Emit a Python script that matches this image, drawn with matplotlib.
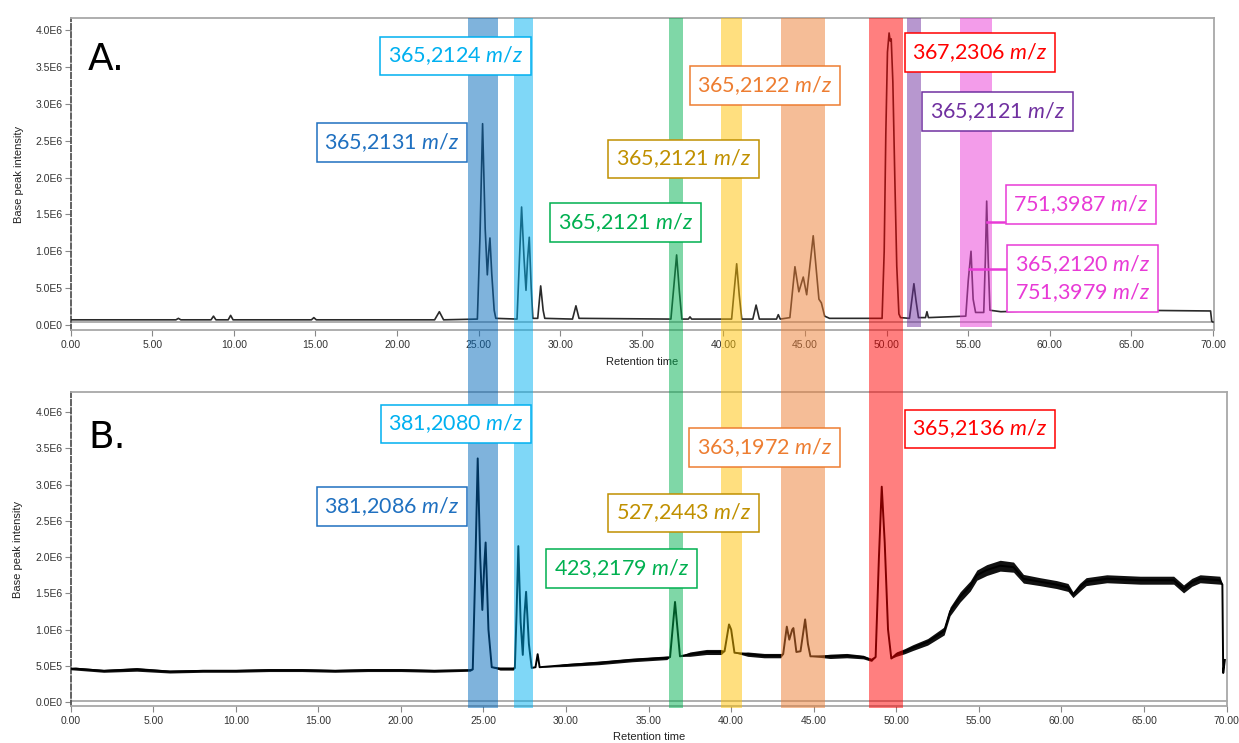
import numpy as np
import matplotlib
matplotlib.use("Agg")
import matplotlib.pyplot as plt
from matplotlib.patches import Rectangle
from matplotlib.ticker import FixedLocator, FuncFormatter
import matplotlib.transforms as mtransforms

plt.rcParams['mathtext.fontset'] = 'custom'
plt.rcParams['mathtext.it'] = 'Lato:italic'
plt.rcParams['mathtext.rm'] = 'Lato'

# ---- data (retention time in min, intensity in 1e6) ----
# panel A trace
a_time = [0.0, 3.0, 6.45, 6.6, 6.75, 8.6, 8.75, 8.9, 9.65, 9.8, 9.95, 14.75, 14.9, 15.05,
          22.3, 22.59, 22.85, 24.92, 25.08, 25.24, 25.40, 25.53, 25.62, 25.69, 25.80, 25.95, 26.05,
          27.35, 27.50, 27.63, 27.78, 27.90, 28.00, 28.10, 28.22, 28.32, 28.62, 28.80, 28.95, 29.05,
          30.75, 30.96, 31.15, 36.78, 36.95, 37.13, 37.30, 37.45, 37.85, 37.95, 38.05,
          40.50, 40.65, 40.81, 40.97, 41.12, 41.80, 42.00, 42.20, 43.25, 43.36, 43.48,
          44.07, 44.38, 44.62, 44.89, 45.10, 45.50, 45.85, 46.00, 46.20, 46.50,
          49.72, 49.85, 49.95, 50.05, 50.15, 50.22, 50.28, 50.38, 50.50, 50.62, 50.75, 50.85,
          51.40, 51.55, 51.67, 51.80, 51.95, 52.38, 52.47, 52.56,
          54.85, 55.00, 55.17, 55.30, 55.45, 55.95, 56.05, 56.13, 56.22, 56.33,
          57.0, 60.0, 65.0, 69.85, 69.92, 70.0]
a_int = [0.07, 0.07, 0.07, 0.09, 0.07, 0.07, 0.12, 0.07, 0.07, 0.13, 0.07, 0.07, 0.10, 0.07,
         0.07, 0.18, 0.07, 0.08, 1.20, 2.73, 1.30, 0.68, 1.00, 1.18, 0.70, 0.20, 0.09,
         0.08, 0.90, 1.60, 0.90, 0.47, 0.90, 1.19, 0.50, 0.09, 0.09, 0.53, 0.20, 0.09,
         0.08, 0.26, 0.09, 0.08, 0.50, 0.95, 0.45, 0.08, 0.08, 0.11, 0.08,
         0.08, 0.45, 0.83, 0.40, 0.08, 0.08, 0.27, 0.08, 0.08, 0.14, 0.08,
         0.10, 0.79, 0.45, 0.65, 0.41, 1.21, 0.35, 0.30, 0.12, 0.09,
         0.09, 1.00, 2.60, 3.70, 3.96, 3.85, 3.88, 3.30, 2.00, 0.80, 0.15, 0.10,
         0.09, 0.35, 0.56, 0.33, 0.10, 0.10, 0.18, 0.10,
         0.12, 0.60, 1.00, 0.35, 0.17, 0.17, 0.90, 1.68, 0.90, 0.20,
         0.18, 0.20, 0.20, 0.19, 0.05, 0.04]

# panel B trace (centre line) and half-width of the baseline noise
b_time = [0.0, 0.3, 2.0, 4.0, 6.0, 8.0, 10.0, 12.0, 14.0, 16.0, 18.0, 20.0, 22.0, 24.2,
          24.35, 24.50, 24.65, 24.80, 24.93, 25.05, 25.13, 25.30, 25.50, 26.0, 26.8,
          26.90, 27.00, 27.11, 27.25, 27.38, 27.48, 27.58, 27.75, 27.92, 28.15, 28.28, 28.40,
          30.0, 32.0, 34.0, 36.1, 36.3, 36.6, 36.9, 37.5, 38.5, 39.4, 39.6, 39.87, 40.0, 40.2,
          41.0, 42.0, 43.0, 43.15, 43.37, 43.52, 43.70, 43.77, 43.95, 44.20, 44.48, 44.65, 44.80,
          46.0, 47.0, 48.0, 48.5, 48.75, 48.95, 49.12, 49.30, 49.50, 49.70,
          50.0, 50.5, 51.0, 51.9, 52.9, 53.26, 53.87, 54.48, 54.88, 55.48, 56.29, 57.1, 57.7,
          58.7, 59.7, 60.4, 60.7, 61.1, 61.5, 62.75, 64.77, 66.8, 67.4, 67.9, 68.4, 69.6,
          69.75, 69.8, 69.9]
b_int = [0.46, 0.46, 0.43, 0.45, 0.42, 0.43, 0.43, 0.44, 0.44, 0.43, 0.44, 0.44, 0.43, 0.44,
         0.45, 1.80, 3.36, 2.00, 1.27, 1.90, 2.20, 1.00, 0.48, 0.46, 0.46,
         0.47, 1.20, 2.15, 1.10, 0.65, 1.20, 1.52, 0.80, 0.47, 0.48, 0.66, 0.48,
         0.51, 0.54, 0.58, 0.61, 0.62, 1.38, 0.63, 0.66, 0.69, 0.69, 0.70, 1.07, 1.00, 0.68,
         0.66, 0.64, 0.64, 0.66, 1.04, 0.86, 1.00, 1.02, 0.69, 0.70, 1.14, 0.80, 0.63,
         0.63, 0.64, 0.62, 0.58, 0.62, 2.00, 2.97, 2.20, 1.00, 0.60,
         0.66, 0.70, 0.75, 0.83, 0.98, 1.25, 1.45, 1.60, 1.75, 1.82, 1.88, 1.86, 1.70,
         1.66, 1.62, 1.58, 1.48, 1.58, 1.66, 1.70, 1.68, 1.68, 1.56, 1.65, 1.70, 1.68,
         1.62, 0.40, 0.58]
b_noise = [0.015, 0.02, 0.02, 0.025, 0.02, 0.02, 0.02, 0.02, 0.02, 0.02, 0.02, 0.02, 0.02, 0.015,
           0.0, 0.0, 0.0, 0.0, 0.0, 0.0, 0.0, 0.0, 0.0, 0.02, 0.02,
           0.0, 0.0, 0.0, 0.0, 0.0, 0.0, 0.0, 0.0, 0.0, 0.0, 0.0, 0.0,
           0.02, 0.025, 0.025, 0.025, 0.0, 0.0, 0.0, 0.03, 0.035, 0.035, 0.0, 0.0, 0.0, 0.0,
           0.03, 0.03, 0.03, 0.0, 0.0, 0.0, 0.0, 0.0, 0.0, 0.0, 0.0, 0.0, 0.0,
           0.03, 0.03, 0.025, 0.02, 0.0, 0.0, 0.0, 0.0, 0.0, 0.0,
           0.03, 0.035, 0.04, 0.045, 0.055, 0.06, 0.07, 0.07, 0.07, 0.075, 0.075, 0.07, 0.06,
           0.055, 0.055, 0.055, 0.04, 0.055, 0.055, 0.055, 0.055, 0.055, 0.055, 0.055, 0.055, 0.055,
           0.0, 0.0, 0.0]

# highlighted retention windows (min, on the panel A time axis)
band_start = [24.33, 27.16, 36.66, 39.85, 43.52, 48.92, 51.22, 54.49]
band_end = [26.16, 28.31, 37.50, 41.13, 46.22, 51.00, 52.10, 56.45]
band_color = ['#0068bb', '#00b0f0', '#00b050', '#ffc000', '#ed7d31', '#ff0000', '#7030a0', '#e83ad6']
band_both = [True, True, True, True, True, True, False, False]

# m/z annotations
mz = ' $m/z$'
a_labels = ['365,2124' + mz, '365,2131' + mz, '365,2121' + mz, '365,2121' + mz, '365,2122' + mz,
            '367,2306' + mz, '365,2121' + mz, '751,3987' + mz, '365,2120' + mz + '\n751,3979' + mz]
a_colors = ['#00b0f0', '#1f70c0', '#00b050', '#c09000', '#ed7d31', '#ff0000', '#7030a0', '#e83ad6', '#e83ad6']
b_labels = ['381,2080' + mz, '381,2086' + mz, '423,2179' + mz, '527,2443' + mz, '363,1972' + mz,
            '365,2136' + mz]
b_colors = ['#00b0f0', '#1f70c0', '#00b050', '#c09000', '#ed7d31', '#ff0000']

y_ticks = [0.0, 0.5, 1.0, 1.5, 2.0, 2.5, 3.0, 3.5, 4.0]
x_ticks = list(range(0, 75, 5))

# ---- layout (pixel positions in the 1239x743 canvas) ----
W, H = 1239, 743
fig = plt.figure(figsize=(W / 100, H / 100), dpi=100)


def fx(px):
    return px / W


def fy(py):
    return 1 - py / H


ax_a = fig.add_axes([fx(70.7), fy(330), fx(1214 - 70.7), (330 - 18) / H])
ax_b = fig.add_axes([fx(70.7), fy(706), fx(1227 - 70.7), (706 - 392) / H])


def sci(v, pos):
    if v == 0:
        return '0.0E0'
    e = int(np.floor(np.log10(v) + 1e-9))
    return '%.1fE%d' % (v / 10 ** e, e)


def style_axes(ax, ylim, xmax, inner):
    ax.set_xlim(0, xmax)
    ax.set_ylim(*ylim)
    ax.yaxis.set_major_locator(FixedLocator([v * 1e6 for v in y_ticks]))
    ax.yaxis.set_major_formatter(FuncFormatter(sci))
    ax.xaxis.set_major_locator(FixedLocator(x_ticks))
    ax.xaxis.set_major_formatter(FuncFormatter(lambda v, p: '%.2f' % v))
    for s in ax.spines.values():
        s.set_color('#a8a8a8')
        s.set_linewidth(1.3)
    ax.spines['left'].set_color('#555555')
    ax.spines['left'].set_linestyle((0, (3, 1.5)))
    ax.plot([0, 1], [inner, inner], transform=ax.transAxes, color='#a8a8a8', lw=1.3,
            clip_on=False)
    ax.tick_params(direction='out', length=4, width=0.8, color='#888888',
                   labelsize=7.5, labelcolor='#333333')
    ax.tick_params(axis='x', pad=3)
    ax.tick_params(axis='y', pad=2)
    for lab in ax.get_xticklabels() + ax.get_yticklabels():
        lab.set_family('Liberation Sans')
    ax.set_ylabel('Base peak intensity', fontsize=8, family='Liberation Sans', color='#222222')
    ax.set_xlabel('Retention time', fontsize=8, family='Liberation Sans', color='#222222')


style_axes(ax_a, (-0.068e6, 4.163e6), 70.06, (330 - 322) / 312)
style_axes(ax_b, (-0.055e6, 4.276e6), 70.03, (706 - 701) / 314)
ax_a.yaxis.set_label_coords(-0.041, 0.5)
ax_b.yaxis.set_label_coords(-0.041, 0.5)
ax_a.xaxis.set_label_coords(0.5, -0.085)
ax_b.xaxis.set_label_coords(0.5, -0.083)

# traces
ax_a.plot(a_time, np.array(a_int) * 1e6, color='#2a2a2a', lw=1.2, zorder=3)
bt = np.array(b_time)
bi = np.array(b_int) * 1e6
bn = np.array(b_noise) * 1e6
ax_b.fill_between(bt, bi - bn, bi + bn, color='#111111', lw=0, zorder=3)
ax_b.plot(bt, bi, color='black', lw=1.4, zorder=3)

# connector lines for the pink peaks in panel A
pink = '#e83ad6'
ax_a.plot([56.13, 57.19], [1.40e6, 1.40e6], color=pink, lw=1.8, clip_on=False, zorder=4)
ax_a.plot([55.07, 57.30], [0.76e6, 0.76e6], color=pink, lw=1.8, clip_on=False, zorder=4)

# highlight bands across both panels
trans = mtransforms.blended_transform_factory(ax_a.transData, fig.transFigure)
for t0, t1, c, both in zip(band_start, band_end, band_color, band_both):
    y0 = fy(708) if both else fy(327)
    fig.add_artist(Rectangle((t0, y0), t1 - t0, fy(18) - y0, transform=trans,
                             facecolor=c, alpha=0.5, lw=0, zorder=2))

# label boxes (centres in pixels)
a_pos = [(455.5, 56), (392, 142.5), (625.5, 222.5), (683.5, 159), (765, 85.5),
         (980, 52.5), (997.5, 111.5), (1081, 204.5), (1082.5, 278.5)]
b_pos = [(456, 424), (392, 506.5), (621.5, 568.5), (683.5, 513), (764.5, 447.5), (980, 429)]
for s, c, (cx, cy) in zip(a_labels + b_labels, a_colors + b_colors, a_pos + b_pos):
    fig.text(fx(cx), fy(cy), s, color=c, fontsize=15.5, family='Lato', ha='center',
             va='center', linespacing=1.3, zorder=6,
             bbox=dict(boxstyle='square,pad=0.36', fc='white', ec=c, lw=1.1))

# panel letters
fig.text(fx(88), fy(70), 'A.', fontsize=27, family='DejaVu Sans', va='baseline', zorder=6)
fig.text(fx(88), fy(448), 'B.', fontsize=27, family='DejaVu Sans', va='baseline', zorder=6)

fig.savefig('out.png', dpi=100, facecolor='white')
